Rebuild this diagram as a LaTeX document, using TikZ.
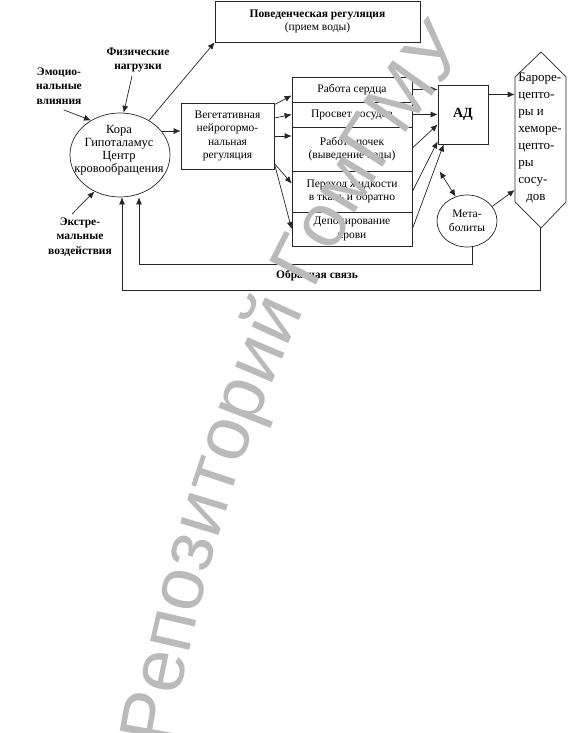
\documentclass[tikz,border=0pt]{standalone}
\usepackage{fontspec}
\setmainfont{Liberation Serif}
\newfontfamily\wmfont{Liberation Sans}
\usetikzlibrary{arrows.meta,shapes.geometric,decorations.text}
\begin{document}
\begin{tikzpicture}[x=1pt,y=-1pt,line width=0.7pt,
  box/.style={draw=black!85, rectangle, inner sep=0pt, align=center, font=\fontsize{11.5}{13.5}\selectfont},
  arr/.style={draw=black!85, -{Latex[length=7pt,width=6pt]}},
  darr/.style={draw=black!85, {Latex[length=7pt,width=6pt]}-{Latex[length=7pt,width=6pt]}},
  lbl/.style={align=center, font=\bfseries\fontsize{11.5}{14.5}\selectfont},
  txt/.style={align=center, font=\fontsize{12.5}{13}\selectfont},
]
\useasboundingbox (0,0) rectangle (584,733);

% top box
\node[box, minimum width=205pt, minimum height=41pt] (beh) at (317.5,21.5)
  {\textbf{\fontsize{11.5}{14}\selectfont Поведенческая регуляция}\\(прием воды)};

% cortex ellipse
\node[draw=black!85, ellipse, minimum width=100pt, minimum height=84pt, inner sep=0pt] (cortex) at (120,155) {};
\node[txt] (cortextxt) at (119,150) {Кора\\Гипоталамус\\Центр\\кровообращения};

% labels
\node[lbl] (phys) at (138,60) {Физические\\нагрузки};
\node[lbl] (emo) at (59,86) {Эмоцио-\\нальные\\влияния};
\node[lbl] (ext) at (80,237) {Экстре-\\мальные\\воздействия};
\node[lbl] (fbl) at (317,276) {Обратная связь};

% vegetative box
\node[box, minimum width=93pt, minimum height=66pt] (veg) at (227.5,136)
  {Вегетативная\\нейрогормо-\\нальная\\регуляция};

% right column
\node[box, minimum width=120pt, minimum height=25pt] (heart) at (352,89.5) {Работа сердца};
\node[box, minimum width=120pt, minimum height=25pt] (lumen) at (352,114.5) {Просвет сосудов};
\node[box, minimum width=120pt, minimum height=44pt] (kidney) at (352,149) {Работа почек\\(выведение воды)};
\node[box, minimum width=120pt, minimum height=41pt] (trans) at (352,191.5) {Переход жидкости\\в ткань и обратно};
\node[box, minimum width=120pt, minimum height=34pt] (depot) at (352,229) {Депонирование\\крови};

% AD
\node[box, minimum width=50pt, minimum height=59pt, font=\bfseries\fontsize{14}{16}\selectfont] (ad) at (463,114.5) {АД};

% metabolites
\node[draw=black!85, ellipse, minimum width=60pt, minimum height=52pt, inner sep=0pt, align=center,
  font=\fontsize{11.5}{14}\selectfont] (metab) at (467,221) {Мета-\\болиты};

% baroreceptors
\node[minimum width=51pt, minimum height=176pt, inner sep=0pt] (baro) at (540.5,140) {};
\draw[black!85] (541,52) -- (566,77) -- (566,202) -- (541,228) -- (515,202) -- (515,77) -- cycle;
\node[align=left, anchor=west, inner sep=0pt, font=\fontsize{13}{17}\selectfont] (barotxt) at (518,138)
  {Бароре-\\цепто-\\ры и\\хеморе-\\цепто-\\ры\\сосу-\\\hspace*{8pt}дов};

% connectors
\draw[arr] (cortex.50) -- (beh.south west);
\draw[arr] ([xshift=-6pt]phys.south) -- (cortex.85);
\draw[arr, shorten <=5pt] (emo.south) -- (cortex.130);
\draw[arr] ([xshift=-8pt]ext.north) -- (cortex.235);
\draw[arr] (cortex.30) -- (cortex.30 -| veg.west);

\draw[arr] ([yshift=-2pt]veg.north east) -- ([yshift=-6pt]heart.west);
\draw[arr] ([yshift=18pt]veg.east) -- (lumen.west);
\draw[arr] (veg.east) -- (veg.east -| kidney.west);
\draw[arr] ([yshift=6pt]veg.south east) -- ([yshift=8pt]trans.west);
\draw[arr] ([yshift=6pt]veg.south east) -- (depot.west);

\draw[arr] (heart.east) -- (heart.east -| ad.west);
\draw[arr] (lumen.east) -- (lumen.east -| ad.west);
\draw[arr] ([yshift=1pt]kidney.east) -- ([yshift=-10pt]ad.west);
\draw[arr] (trans.east) -- ([yshift=3pt]ad.south west);
\draw[arr] (depot.east) -- ([xshift=6pt]ad.south west);

\draw[darr] ([shift={(2pt,-27pt)}]ad.south west) -- (metab.115);
\draw[arr] (metab.30) -- ([yshift=-50pt]baro.west);
\draw[arr] ([yshift=20pt]ad.east) -- ([yshift=20pt]ad.east -| baro.west);

\coordinate (fb1) at (139,264);
\coordinate (fb2) at (122,290);
\draw[arr] ([xshift=5pt]metab.south) |- (fb1) -- (fb1 |- cortex.south);
\draw[arr] (baro.south) |- (fb2) -- (fb2 |- cortex.south);

% watermark (curved)
\path[decorate, decoration={text along path, text align=center,
    text color=black!27,
    text={|\wmfont\fontsize{76}{76}\selectfont|Репозиторий ГомГМУ}}]
  (171,745) .. controls (213,495) and (305,249) .. (468,50);
\end{tikzpicture}
\end{document}
